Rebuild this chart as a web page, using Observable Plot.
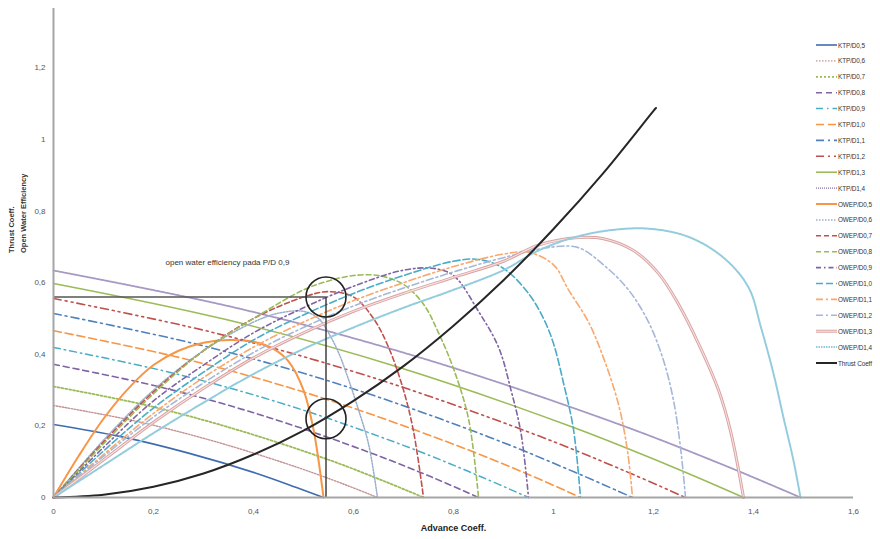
<!DOCTYPE html>
<html><head><meta charset="utf-8">
<script src="https://cdn.jsdelivr.net/npm/d3@7"></script>
<script src="https://cdn.jsdelivr.net/npm/@observablehq/plot@0.6"></script>
<style>
body{margin:0;background:#fff;overflow:hidden;font-family:"Liberation Sans",Arial,sans-serif}
#wrap{position:relative;width:880px;height:539px;overflow:hidden}
#legend{position:absolute;left:0;top:0}
</style></head><body><div id="wrap"></div>
<script>
// ---- data ----
const pd = ["0,5","0,6","0,7","0,8","0,9","1,0","1,1","1,2","1,3","1,4"];

// Thrust coefficient KT per P/D
const ktJ = [
  [0,0.135,0.27,0.405,0.486,0.54],
  [0,0.162,0.324,0.486,0.583,0.648],
  [0,0.185,0.37,0.555,0.666,0.74],
  [0,0.2125,0.425,0.6375,0.765,0.85],
  [0,0.2375,0.475,0.7125,0.855,0.95],
  [0,0.2635,0.527,0.79,0.949,1.054],
  [0,0.29,0.579,0.869,1.042,1.158],
  [0,0.316,0.632,0.948,1.138,1.264],
  [0,0.345,0.69,1.035,1.242,1.38],
  [0,0.3735,0.747,1.12,1.345,1.494]
];
const ktValues = [
  [0.204,0.170,0.124,0.068,0.028,0],
  [0.257,0.214,0.156,0.085,0.036,0],
  [0.310,0.258,0.188,0.103,0.043,0],
  [0.372,0.309,0.226,0.123,0.052,0],
  [0.419,0.348,0.255,0.139,0.058,0],
  [0.466,0.387,0.283,0.154,0.065,0],
  [0.514,0.427,0.313,0.170,0.071,0],
  [0.556,0.462,0.338,0.184,0.077,0],
  [0.598,0.497,0.364,0.198,0.083,0],
  [0.634,0.527,0.385,0.210,0.088,0]
];

// Open water efficiency per P/D
const etaJ = [
  [0,0.05,0.1,0.15,0.2,0.25,0.3,0.35,0.4,0.44,0.47,0.5,0.52,0.54],
  [0,0.1,0.2,0.3,0.4,0.45,0.5,0.53,0.55,0.57,0.59,0.61,0.63,0.648],
  [0,0.1,0.2,0.3,0.4,0.5,0.55,0.6,0.64,0.67,0.7,0.72,0.74],
  [0,0.1,0.2,0.3,0.4,0.5,0.55,0.6,0.65,0.7,0.74,0.77,0.8,0.83,0.85],
  [0,0.1,0.2,0.3,0.4,0.5,0.6,0.7,0.76,0.8,0.85,0.89,0.915,0.935,0.95],
  [0,0.1,0.2,0.3,0.4,0.5,0.6,0.7,0.8,0.85,0.9,0.95,0.98,1.0,1.02,1.04,1.054],
  [0,0.1,0.2,0.3,0.4,0.5,0.6,0.7,0.8,0.9,0.95,1.0,1.03,1.07,1.1,1.13,1.148,1.158],
  [0,0.1,0.2,0.3,0.4,0.5,0.6,0.7,0.8,0.9,1.0,1.05,1.1,1.15,1.19,1.22,1.24,1.254,1.264],
  [0,0.1,0.2,0.3,0.4,0.5,0.6,0.7,0.8,0.9,0.97,1.05,1.1,1.16,1.21,1.25,1.29,1.33,1.355,1.38],
  [0,0.1,0.2,0.3,0.4,0.5,0.6,0.7,0.8,0.9,0.97,1.04,1.11,1.19,1.27,1.34,1.39,1.415,1.44,1.46,1.48,1.494]
];
const etaValues = [
  [0,0.115,0.22,0.305,0.37,0.41,0.432,0.44,0.435,0.415,0.38,0.3,0.19,0],
  [0,0.16,0.3,0.41,0.49,0.515,0.52,0.5,0.46,0.405,0.33,0.245,0.15,0],
  [0,0.155,0.295,0.41,0.5,0.56,0.575,0.56,0.5,0.42,0.3,0.185,0],
  [0,0.15,0.29,0.41,0.5,0.58,0.605,0.62,0.62,0.595,0.54,0.46,0.36,0.22,0],
  [0,0.14,0.27,0.37,0.46,0.53,0.59,0.635,0.64,0.62,0.52,0.42,0.3,0.18,0],
  [0,0.13,0.25,0.35,0.44,0.51,0.57,0.62,0.66,0.665,0.64,0.57,0.5,0.43,0.32,0.19,0],
  [0,0.12,0.235,0.335,0.42,0.49,0.55,0.6,0.645,0.68,0.685,0.65,0.58,0.49,0.39,0.26,0.13,0],
  [0,0.115,0.225,0.32,0.405,0.475,0.535,0.585,0.63,0.67,0.7,0.698,0.65,0.58,0.49,0.383,0.271,0.14,0],
  [0,0.105,0.21,0.305,0.39,0.46,0.52,0.57,0.615,0.66,0.705,0.726,0.723,0.69,0.626,0.54,0.43,0.3,0.18,0],
  [0,0.09,0.18,0.265,0.345,0.415,0.475,0.53,0.58,0.635,0.69,0.726,0.746,0.751,0.728,0.67,0.587,0.475,0.346,0.223,0.103,0]
];

// Thrust (load) curve of the ship
const loadJ  = [0,0.1,0.2,0.3,0.4,0.5,0.6,0.7,0.8,0.9,1.0,1.1,1.2,1.205];
const loadKT = [0,0.0075,0.03,0.067,0.12,0.187,0.27,0.367,0.48,0.607,0.75,0.907,1.08,1.088];

// operating point annotation
const markJ = 0.545, markEta = 0.56, markKT = 0.22;
const noteText = "open water efficiency pada P/D 0,9";
const noteJ = 0.224, noteV = 0.656;

const xTicks = [0,0.2,0.4,0.6,0.8,1,1.2,1.4,1.6];
const yTicks = [0,0.2,0.4,0.6,0.8,1,1.2];

const ktLabels  = pd.map(p => "KTP/D" + p);
const etaLabels = pd.map(p => "OWEP/D" + p);
const loadLabel = "Thrust Coeff";

// ---- styles ----
const ktColors = ["#3f6cae","#c49494","#9bbb59","#8064a2","#4bacc6","#f79646","#4f81bd","#c0504d","#9bbb59","#a899c4"];
const ktDash   = [null,"1.5,1.5","2,2","6,4","7,4,1.5,4","8,4","8,4,2,4","8,4,2,4,2,4",null,"1,1"];
const ktWidth  = [1.6,1.4,1.8,1.6,1.5,1.6,1.6,1.6,1.6,1.8];
const etaColors = ["#f79646","#9aaecb","#c0504d","#9bbb59","#8064a2","#4bacc6","#f9a86e","#a5b8d8","#d9a3a2","#93cddd"];
const etaDash   = [null,"1.5,1.5","5,3","5,3","5,3,1.5,3","7,3","7,3,2,3","7,3,2,3",null,"1.5,1"];
const etaWidth  = [2,1.5,1.6,1.6,1.6,1.6,1.6,1.6,3,2];

const fmt = d => String(+d.toFixed(1)).replace(".", ",");
const pts = (J, V) => J.map((j, k) => ({J: j, v: V[k]}));
function lineOpts(color, dash, width) {
  const o = {x: "J", y: "v", stroke: color, strokeWidth: width, curve: "catmull-rom"};
  if (dash) o.strokeDasharray = dash;
  return o;
}

const marks = [];
ktJ.forEach((J, i) => marks.push(Plot.line(pts(J, ktValues[i]), lineOpts(ktColors[i], ktDash[i], ktWidth[i]))));
etaJ.forEach((J, i) => {
  marks.push(Plot.line(pts(J, etaValues[i]), lineOpts(etaColors[i], etaDash[i], etaWidth[i])));
  if (i === 8) marks.push(Plot.line(pts(J, etaValues[i]), lineOpts("#f6e3e2", null, 1.1)));
});
marks.push(Plot.line(pts(loadJ, loadKT), lineOpts("#262626", null, 2)));

// annotation
marks.push(Plot.ruleY([markEta], {x1: 0, x2: markJ, stroke: "#555", strokeWidth: 1.4}));
marks.push(Plot.ruleX([markJ], {y1: 0, y2: markEta, stroke: "#333", strokeWidth: 1.4}));
marks.push(Plot.dot([{J: markJ, v: markEta}, {J: markJ, v: markKT}], {x: "J", y: "v", r: 20, stroke: "#222", strokeWidth: 1.6, fill: "none"}));
marks.push(Plot.text([noteText], {x: () => noteJ, y: () => noteV, text: d => d, textAnchor: "start", fontSize: 8, fill: "#333"}));

// axes
marks.push(Plot.ruleX([0], {stroke: "#a6a6a6", strokeWidth: 2}));
marks.push(Plot.ruleY([0], {stroke: "#a6a6a6", strokeWidth: 2}));
marks.push(Plot.axisX({ticks: xTicks, tickSize: 0, tickPadding: 11, tickFormat: fmt, fontSize: 8, fill: "#555", label: null}));
marks.push(Plot.axisY({ticks: yTicks, tickSize: 0, tickPadding: 8, tickFormat: fmt, fontSize: 8, fill: "#555", label: null}));
marks.push(Plot.text(["Thrust Coeff.\nOpen Water Efficiency"], {frameAnchor: "left", dx: -37, rotate: -90, fontSize: 7.5, fontWeight: "bold", fill: "#333", lineHeight: 1.55}));
marks.push(Plot.text(["Advance Coeff."], {frameAnchor: "bottom", dy: 33, fontSize: 9, fontWeight: "bold", fill: "#222"}));

const chart = Plot.plot({
  width: 880, height: 539,
  marginLeft: 53, marginRight: 27, marginTop: 8, marginBottom: 42,
  x: {domain: [0, 1.6]},
  y: {domain: [0, 1.366]},
  style: {fontFamily: "'Liberation Sans', Arial, sans-serif", background: "#fff"},
  marks
});
const wrap = document.getElementById("wrap");
wrap.appendChild(chart);

// legend overlay (right side)
const entries = [];
pd.forEach((p, i) => entries.push({label: ktLabels[i], color: ktColors[i], dash: ktDash[i], width: ktWidth[i]}));
pd.forEach((p, i) => entries.push({label: etaLabels[i], color: etaColors[i], dash: etaDash[i], width: etaWidth[i], dbl: i === 8}));
entries.push({label: loadLabel, color: "#262626", dash: null, width: 2});

const lg = d3.select(wrap).append("svg").attr("id", "legend").attr("width", 880).attr("height", 539)
  .style("font-family", "'Liberation Sans', Arial, sans-serif");
const row = lg.selectAll("g").data(entries).join("g")
  .attr("transform", (d, i) => `translate(816,${45 + i * 15.9})`);
row.append("line").attr("x1", 0).attr("x2", 21).attr("y1", 0).attr("y2", 0)
  .attr("stroke", d => d.color).attr("stroke-width", d => d.width)
  .attr("stroke-dasharray", d => d.dash || null);
row.filter(d => d.dbl).append("line").attr("x1", 0).attr("x2", 21).attr("y1", 0).attr("y2", 0)
  .attr("stroke", "#f6e3e2").attr("stroke-width", 1.1);
row.append("text").attr("x", 22).attr("y", 2.5).attr("font-size", 6.4).attr("letter-spacing", -0.1)
  .attr("fill", "#333").text(d => d.label);
</script></body></html>
